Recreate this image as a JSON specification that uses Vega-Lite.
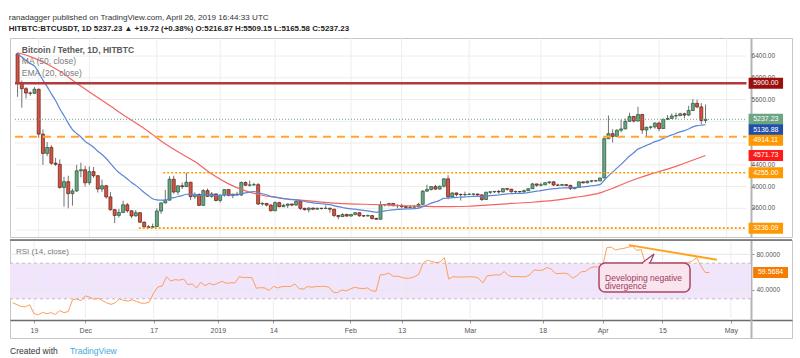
{
  "$schema": "https://vega.github.io/schema/vega-lite/v6.json",
  "background": "white",
  "padding": {"left": 8, "top": 14, "right": 2, "bottom": 0},
  "spacing": 0,
  "config": {
    "view": {"stroke": "#c6c6c6", "strokeWidth": 1},
    "font": "Liberation Sans",
    "text": {"font": "Liberation Sans"}
  },
  "title": {
    "text": "ranadagger published on TradingView.com, April 26, 2019 16:44:33 UTC",
    "subtitle": "HITBTC:BTCUSDT, 1D  5237.23 \u25b2 +19.72 (+0.38%)  O:5216.87  H:5509.15  L:5165.58  C:5237.23",
    "anchor": "start", "frame": "bounds", "font": "Liberation Sans", "fontSize": 8.1, "fontWeight": "normal", "color": "#333",
    "subtitleFont": "Liberation Sans", "subtitleFontSize": 7.9, "subtitleFontWeight": "bold", "subtitleColor": "#222", "subtitlePadding": 3, "offset": 4
  },
  "datasets": {
    "candles": [
      {"d":"2018-11-14","o":6440,"h":6460,"l":5650,"c":5905,"e":6444,"r":25.6},
      {"d":"2018-11-15","o":5905,"h":5950,"l":5450,"c":5800,"e":6383,"r":23.5},
      {"d":"2018-11-16","o":5800,"h":5830,"l":5620,"c":5720,"e":6320,"r":21.4},
      {"d":"2018-11-17","o":5720,"h":5750,"l":5670,"c":5715,"e":6262,"r":21.0},
      {"d":"2018-11-18","o":5715,"h":5830,"l":5700,"c":5790,"e":6217,"r":23.3},
      {"d":"2018-11-19","o":5790,"h":5800,"l":4900,"c":4965,"e":6098,"r":13.3},
      {"d":"2018-11-20","o":4965,"h":5050,"l":4400,"c":4610,"e":5957,"r":12.0},
      {"d":"2018-11-21","o":4610,"h":4820,"l":4560,"c":4720,"e":5839,"r":14.8},
      {"d":"2018-11-22","o":4720,"h":4760,"l":4400,"c":4430,"e":5705,"r":13.3},
      {"d":"2018-11-23","o":4430,"h":4530,"l":4380,"c":4410,"e":5582,"r":14.4},
      {"d":"2018-11-24","o":4410,"h":4500,"l":3960,"c":3985,"e":5430,"r":12.4},
      {"d":"2018-11-25","o":3985,"h":4180,"l":3630,"c":4090,"e":5302,"r":16.7},
      {"d":"2018-11-26","o":4090,"h":4200,"l":3600,"c":3870,"e":5166,"r":14.5},
      {"d":"2018-11-27","o":3870,"h":3960,"l":3650,"c":3920,"e":5047,"r":15.6},
      {"d":"2018-11-28","o":3920,"h":4400,"l":3900,"c":4290,"e":4975,"r":28.9},
      {"d":"2018-11-29","o":4290,"h":4440,"l":4170,"c":4310,"e":4912,"r":30.0},
      {"d":"2018-11-30","o":4310,"h":4380,"l":4000,"c":4070,"e":4832,"r":27.8},
      {"d":"2018-12-01","o":4070,"h":4370,"l":4030,"c":4275,"e":4779,"r":33.3},
      {"d":"2018-12-02","o":4275,"h":4360,"l":4160,"c":4200,"e":4724,"r":31.8},
      {"d":"2018-12-03","o":4200,"h":4210,"l":3890,"c":3955,"e":4651,"r":29.5},
      {"d":"2018-12-04","o":3955,"h":4130,"l":3900,"c":4015,"e":4590,"r":30.7},
      {"d":"2018-12-05","o":4015,"h":4030,"l":3780,"c":3810,"e":4516,"r":28.0},
      {"d":"2018-12-06","o":3810,"h":3900,"l":3560,"c":3575,"e":4426,"r":25.5},
      {"d":"2018-12-07","o":3575,"h":3590,"l":3330,"c":3470,"e":4335,"r":23.7},
      {"d":"2018-12-08","o":3470,"h":3590,"l":3430,"c":3525,"e":4258,"r":25.5},
      {"d":"2018-12-09","o":3525,"h":3740,"l":3510,"c":3665,"e":4202,"r":30.0},
      {"d":"2018-12-10","o":3665,"h":3700,"l":3520,"c":3555,"e":4140,"r":28.1},
      {"d":"2018-12-11","o":3555,"h":3560,"l":3420,"c":3460,"e":4075,"r":27.5},
      {"d":"2018-12-12","o":3460,"h":3570,"l":3450,"c":3520,"e":4022,"r":28.9},
      {"d":"2018-12-13","o":3520,"h":3525,"l":3330,"c":3345,"e":3958,"r":27.0},
      {"d":"2018-12-14","o":3345,"h":3360,"l":3250,"c":3260,"e":3891,"r":25.2},
      {"d":"2018-12-15","o":3260,"h":3290,"l":3236,"c":3250,"e":3830,"r":25.0},
      {"d":"2018-12-16","o":3250,"h":3320,"l":3245,"c":3265,"e":3776,"r":26.3},
      {"d":"2018-12-17","o":3265,"h":3600,"l":3260,"c":3550,"e":3755,"r":36.7},
      {"d":"2018-12-18","o":3550,"h":3705,"l":3500,"c":3700,"e":3750,"r":43.3},
      {"d":"2018-12-19","o":3700,"h":3940,"l":3690,"c":3750,"e":3750,"r":44.4},
      {"d":"2018-12-20","o":3750,"h":4190,"l":3745,"c":4135,"e":3787,"r":54.8},
      {"d":"2018-12-21","o":4135,"h":4200,"l":3870,"c":3900,"e":3797,"r":50.0},
      {"d":"2018-12-22","o":3900,"h":4020,"l":3850,"c":4015,"e":3818,"r":51.5},
      {"d":"2018-12-23","o":4015,"h":4075,"l":3955,"c":4000,"e":3835,"r":51.0},
      {"d":"2018-12-24","o":4000,"h":4255,"l":3995,"c":4080,"e":3859,"r":52.2},
      {"d":"2018-12-25","o":4080,"h":4085,"l":3750,"c":3815,"e":3855,"r":45.9},
      {"d":"2018-12-26","o":3815,"h":3895,"l":3770,"c":3855,"e":3855,"r":46.7},
      {"d":"2018-12-27","o":3855,"h":3875,"l":3645,"c":3655,"e":3836,"r":42.2},
      {"d":"2018-12-28","o":3655,"h":3955,"l":3645,"c":3925,"e":3844,"r":48.5},
      {"d":"2018-12-29","o":3925,"h":3965,"l":3815,"c":3820,"e":3842,"r":44.8},
      {"d":"2018-12-30","o":3820,"h":3900,"l":3795,"c":3865,"e":3844,"r":47.4},
      {"d":"2018-12-31","o":3865,"h":3870,"l":3725,"c":3745,"e":3835,"r":45.6},
      {"d":"2019-01-01","o":3745,"h":3850,"l":3705,"c":3845,"e":3836,"r":47.5},
      {"d":"2019-01-02","o":3845,"h":3950,"l":3815,"c":3945,"e":3846,"r":49.6},
      {"d":"2019-01-03","o":3945,"h":3950,"l":3820,"c":3835,"e":3845,"r":47.4},
      {"d":"2019-01-04","o":3835,"h":3870,"l":3785,"c":3860,"e":3847,"r":48.0},
      {"d":"2019-01-05","o":3860,"h":3905,"l":3840,"c":3845,"e":3846,"r":47.8},
      {"d":"2019-01-06","o":3845,"h":4095,"l":3825,"c":4075,"e":3868,"r":54.8},
      {"d":"2019-01-07","o":4075,"h":4095,"l":4015,"c":4025,"e":3883,"r":54.0},
      {"d":"2019-01-08","o":4025,"h":4110,"l":4000,"c":4030,"e":3897,"r":54.0},
      {"d":"2019-01-09","o":4030,"h":4070,"l":4020,"c":4035,"e":3910,"r":53.7},
      {"d":"2019-01-10","o":4035,"h":4065,"l":3660,"c":3680,"e":3888,"r":41.9},
      {"d":"2019-01-11","o":3680,"h":3715,"l":3650,"c":3690,"e":3869,"r":42.5},
      {"d":"2019-01-12","o":3690,"h":3700,"l":3635,"c":3660,"e":3849,"r":42.2},
      {"d":"2019-01-13","o":3660,"h":3675,"l":3545,"c":3555,"e":3821,"r":39.3},
      {"d":"2019-01-14","o":3555,"h":3730,"l":3555,"c":3705,"e":3810,"r":44.1},
      {"d":"2019-01-15","o":3705,"h":3720,"l":3620,"c":3630,"e":3793,"r":42.2},
      {"d":"2019-01-16","o":3630,"h":3685,"l":3625,"c":3655,"e":3780,"r":43.7},
      {"d":"2019-01-17","o":3655,"h":3685,"l":3605,"c":3680,"e":3770,"r":44.0},
      {"d":"2019-01-18","o":3680,"h":3685,"l":3635,"c":3660,"e":3760,"r":43.8},
      {"d":"2019-01-19","o":3660,"h":3760,"l":3650,"c":3730,"e":3757,"r":46.7},
      {"d":"2019-01-20","o":3730,"h":3745,"l":3570,"c":3600,"e":3742,"r":41.5},
      {"d":"2019-01-21","o":3600,"h":3610,"l":3560,"c":3575,"e":3726,"r":41.0},
      {"d":"2019-01-22","o":3575,"h":3620,"l":3525,"c":3605,"e":3715,"r":43.7},
      {"d":"2019-01-23","o":3605,"h":3615,"l":3565,"c":3585,"e":3702,"r":43.0},
      {"d":"2019-01-24","o":3585,"h":3615,"l":3575,"c":3600,"e":3693,"r":43.8},
      {"d":"2019-01-25","o":3600,"h":3612,"l":3575,"c":3598,"e":3684,"r":43.8},
      {"d":"2019-01-26","o":3598,"h":3655,"l":3595,"c":3602,"e":3676,"r":44.1},
      {"d":"2019-01-27","o":3602,"h":3610,"l":3520,"c":3584,"e":3667,"r":43.0},
      {"d":"2019-01-28","o":3584,"h":3586,"l":3440,"c":3470,"e":3649,"r":37.4},
      {"d":"2019-01-29","o":3470,"h":3478,"l":3400,"c":3448,"e":3630,"r":36.8},
      {"d":"2019-01-30","o":3448,"h":3510,"l":3440,"c":3486,"e":3616,"r":40.0},
      {"d":"2019-01-31","o":3486,"h":3505,"l":3447,"c":3458,"e":3601,"r":38.8},
      {"d":"2019-02-01","o":3458,"h":3490,"l":3450,"c":3488,"e":3590,"r":41.0},
      {"d":"2019-02-02","o":3488,"h":3525,"l":3470,"c":3520,"e":3584,"r":43.0},
      {"d":"2019-02-03","o":3520,"h":3522,"l":3445,"c":3464,"e":3572,"r":41.9},
      {"d":"2019-02-04","o":3464,"h":3476,"l":3440,"c":3459,"e":3561,"r":41.5},
      {"d":"2019-02-05","o":3459,"h":3486,"l":3452,"c":3466,"e":3552,"r":42.2},
      {"d":"2019-02-06","o":3466,"h":3478,"l":3394,"c":3414,"e":3539,"r":39.0},
      {"d":"2019-02-07","o":3414,"h":3428,"l":3392,"c":3399,"e":3526,"r":38.5},
      {"d":"2019-02-08","o":3399,"h":3734,"l":3392,"c":3667,"e":3539,"r":57.0},
      {"d":"2019-02-09","o":3667,"h":3682,"l":3636,"c":3671,"e":3552,"r":57.2},
      {"d":"2019-02-10","o":3671,"h":3695,"l":3634,"c":3690,"e":3565,"r":58.9},
      {"d":"2019-02-11","o":3690,"h":3696,"l":3637,"c":3648,"e":3573,"r":55.2},
      {"d":"2019-02-12","o":3648,"h":3672,"l":3601,"c":3654,"e":3580,"r":55.5},
      {"d":"2019-02-13","o":3654,"h":3683,"l":3600,"c":3632,"e":3585,"r":54.1},
      {"d":"2019-02-14","o":3632,"h":3645,"l":3588,"c":3617,"e":3588,"r":53.0},
      {"d":"2019-02-15","o":3617,"h":3658,"l":3608,"c":3621,"e":3591,"r":53.4},
      {"d":"2019-02-16","o":3621,"h":3665,"l":3615,"c":3630,"e":3595,"r":54.8},
      {"d":"2019-02-17","o":3630,"h":3700,"l":3617,"c":3674,"e":3603,"r":57.5},
      {"d":"2019-02-18","o":3674,"h":3936,"l":3670,"c":3916,"e":3632,"r":70.0},
      {"d":"2019-02-19","o":3916,"h":4033,"l":3905,"c":3947,"e":3662,"r":73.3},
      {"d":"2019-02-20","o":3947,"h":4005,"l":3926,"c":4000,"e":3695,"r":72.0},
      {"d":"2019-02-21","o":4000,"h":4033,"l":3940,"c":3954,"e":3719,"r":70.7},
      {"d":"2019-02-22","o":3954,"h":4020,"l":3950,"c":4006,"e":3747,"r":71.2},
      {"d":"2019-02-23","o":4006,"h":4153,"l":3983,"c":4143,"e":3784,"r":76.3},
      {"d":"2019-02-24","o":4143,"h":4210,"l":3768,"c":3810,"e":3787,"r":52.2},
      {"d":"2019-02-25","o":3810,"h":3892,"l":3800,"c":3883,"e":3796,"r":54.8},
      {"d":"2019-02-26","o":3883,"h":3890,"l":3820,"c":3854,"e":3802,"r":54.4},
      {"d":"2019-02-27","o":3854,"h":3874,"l":3743,"c":3851,"e":3806,"r":54.5},
      {"d":"2019-02-28","o":3851,"h":3906,"l":3823,"c":3855,"e":3811,"r":54.6},
      {"d":"2019-03-01","o":3855,"h":3880,"l":3845,"c":3860,"e":3815,"r":54.8},
      {"d":"2019-03-02","o":3860,"h":3875,"l":3835,"c":3864,"e":3820,"r":54.6},
      {"d":"2019-03-03","o":3864,"h":3868,"l":3822,"c":3847,"e":3823,"r":53.0},
      {"d":"2019-03-04","o":3847,"h":3856,"l":3735,"c":3762,"e":3817,"r":47.8},
      {"d":"2019-03-05","o":3762,"h":3904,"l":3758,"c":3896,"e":3824,"r":55.9},
      {"d":"2019-03-06","o":3896,"h":3910,"l":3863,"c":3904,"e":3832,"r":56.3},
      {"d":"2019-03-07","o":3904,"h":3918,"l":3881,"c":3911,"e":3839,"r":57.0},
      {"d":"2019-03-08","o":3911,"h":3937,"l":3868,"c":3901,"e":3845,"r":56.7},
      {"d":"2019-03-09","o":3901,"h":3969,"l":3895,"c":3963,"e":3856,"r":60.7},
      {"d":"2019-03-10","o":3963,"h":3968,"l":3924,"c":3952,"e":3865,"r":55.9},
      {"d":"2019-03-11","o":3952,"h":3958,"l":3889,"c":3905,"e":3869,"r":54.8},
      {"d":"2019-03-12","o":3905,"h":3926,"l":3873,"c":3909,"e":3873,"r":55.0},
      {"d":"2019-03-13","o":3909,"h":3914,"l":3880,"c":3907,"e":3876,"r":54.8},
      {"d":"2019-03-14","o":3907,"h":3947,"l":3880,"c":3924,"e":3881,"r":54.8},
      {"d":"2019-03-15","o":3924,"h":3968,"l":3920,"c":3961,"e":3888,"r":57.0},
      {"d":"2019-03-16","o":3961,"h":4068,"l":3955,"c":4049,"e":3904,"r":62.6},
      {"d":"2019-03-17","o":4049,"h":4052,"l":3995,"c":4025,"e":3915,"r":61.9},
      {"d":"2019-03-18","o":4025,"h":4071,"l":4005,"c":4033,"e":3926,"r":62.3},
      {"d":"2019-03-19","o":4033,"h":4078,"l":4026,"c":4071,"e":3940,"r":65.2},
      {"d":"2019-03-20","o":4071,"h":4094,"l":4045,"c":4087,"e":3954,"r":63.3},
      {"d":"2019-03-21","o":4087,"h":4099,"l":4009,"c":4029,"e":3961,"r":58.5},
      {"d":"2019-03-22","o":4029,"h":4054,"l":4015,"c":4024,"e":3967,"r":58.4},
      {"d":"2019-03-23","o":4024,"h":4050,"l":4015,"c":4036,"e":3974,"r":58.9},
      {"d":"2019-03-24","o":4036,"h":4040,"l":4006,"c":4022,"e":3978,"r":57.8},
      {"d":"2019-03-25","o":4022,"h":4033,"l":3935,"c":3963,"e":3977,"r":53.0},
      {"d":"2019-03-26","o":3963,"h":3990,"l":3949,"c":3985,"e":3978,"r":56.0},
      {"d":"2019-03-27","o":3985,"h":4090,"l":3980,"c":4087,"e":3988,"r":60.4},
      {"d":"2019-03-28","o":4087,"h":4094,"l":4056,"c":4069,"e":3996,"r":60.7},
      {"d":"2019-03-29","o":4069,"h":4113,"l":4057,"c":4098,"e":4005,"r":64.4},
      {"d":"2019-03-30","o":4098,"h":4114,"l":4076,"c":4107,"e":4015,"r":65.9},
      {"d":"2019-03-31","o":4107,"h":4112,"l":4089,"c":4105,"e":4024,"r":65.8},
      {"d":"2019-04-01","o":4105,"h":4164,"l":4096,"c":4158,"e":4036,"r":66.3},
      {"d":"2019-04-02","o":4158,"h":4905,"l":4155,"c":4880,"e":4117,"r":87.4},
      {"d":"2019-04-03","o":4880,"h":5307,"l":4876,"c":4973,"e":4198,"r":88.1},
      {"d":"2019-04-04","o":4973,"h":5054,"l":4809,"c":4923,"e":4267,"r":84.8},
      {"d":"2019-04-05","o":4923,"h":5053,"l":4915,"c":5037,"e":4340,"r":86.0},
      {"d":"2019-04-06","o":5037,"h":5232,"l":5000,"c":5060,"e":4409,"r":86.7},
      {"d":"2019-04-07","o":5060,"h":5251,"l":5055,"c":5199,"e":4484,"r":88.0},
      {"d":"2019-04-08","o":5199,"h":5357,"l":5190,"c":5290,"e":4561,"r":88.9},
      {"d":"2019-04-09","o":5290,"h":5295,"l":5178,"c":5205,"e":4622,"r":84.3},
      {"d":"2019-04-10","o":5205,"h":5467,"l":5200,"c":5325,"e":4689,"r":85.5},
      {"d":"2019-04-11","o":5325,"h":5335,"l":4970,"c":5040,"e":4723,"r":69.7},
      {"d":"2019-04-12","o":5040,"h":5103,"l":4912,"c":5090,"e":4758,"r":69.0},
      {"d":"2019-04-13","o":5090,"h":5118,"l":5052,"c":5097,"e":4790,"r":69.2},
      {"d":"2019-04-14","o":5097,"h":5180,"l":5064,"c":5168,"e":4826,"r":69.7},
      {"d":"2019-04-15","o":5168,"h":5197,"l":5019,"c":5067,"e":4849,"r":65.2},
      {"d":"2019-04-16","o":5067,"h":5250,"l":5060,"c":5236,"e":4886,"r":69.7},
      {"d":"2019-04-17","o":5236,"h":5312,"l":5223,"c":5252,"e":4918,"r":69.8},
      {"d":"2019-04-18","o":5252,"h":5345,"l":5245,"c":5298,"e":4950,"r":70.0},
      {"d":"2019-04-19","o":5298,"h":5360,"l":5237,"c":5304,"e":4978,"r":70.2},
      {"d":"2019-04-20","o":5304,"h":5358,"l":5297,"c":5338,"e":5005,"r":70.5},
      {"d":"2019-04-21","o":5338,"h":5359,"l":5257,"c":5315,"e":5030,"r":70.7},
      {"d":"2019-04-22","o":5315,"h":5485,"l":5299,"c":5399,"e":5060,"r":72.5},
      {"d":"2019-04-23","o":5399,"h":5610,"l":5389,"c":5530,"e":5098,"r":76.3},
      {"d":"2019-04-24","o":5530,"h":5600,"l":5440,"c":5465,"e":5122,"r":67.0},
      {"d":"2019-04-25","o":5465,"h":5536,"l":5150,"c":5217,"e":5130,"r":59.6},
      {"d":"2019-04-26","o":5216.87,"h":5509.15,"l":5165.58,"c":5237.23,"e":5137,"r":59.57}
    ],
    "ma": [
      {"d":"2018-11-14","m":6460},{"d":"2018-11-17","m":6390},{"d":"2018-11-20","m":6290},{"d":"2018-11-24","m":6120},
      {"d":"2018-11-28","m":5900},{"d":"2018-12-02","m":5690},{"d":"2018-12-06","m":5480},{"d":"2018-12-10","m":5270},
      {"d":"2018-12-14","m":5070},{"d":"2018-12-18","m":4840},{"d":"2018-12-22","m":4640},{"d":"2018-12-26","m":4460},
      {"d":"2018-12-30","m":4230},{"d":"2019-01-03","m":4050},{"d":"2019-01-07","m":3920},{"d":"2019-01-11","m":3840},
      {"d":"2019-01-15","m":3790},{"d":"2019-01-20","m":3750},{"d":"2019-01-25","m":3715},{"d":"2019-01-30","m":3688},
      {"d":"2019-02-04","m":3675},{"d":"2019-02-09","m":3662},{"d":"2019-02-14","m":3648},{"d":"2019-02-19","m":3636},
      {"d":"2019-02-24","m":3630},{"d":"2019-03-01","m":3638},{"d":"2019-03-06","m":3665},{"d":"2019-03-11","m":3690},
      {"d":"2019-03-16","m":3712},{"d":"2019-03-21","m":3745},{"d":"2019-03-26","m":3800},{"d":"2019-04-01","m":3885},
      {"d":"2019-04-05","m":4000},{"d":"2019-04-09","m":4125},{"d":"2019-04-13","m":4230},{"d":"2019-04-17","m":4320},
      {"d":"2019-04-21","m":4430},{"d":"2019-04-26","m":4572}
    ],
    "ticks": [
      {"t":"2018-11-19"},{"t":"2018-12-01"},{"t":"2018-12-17"},{"t":"2019-01-01"},{"t":"2019-01-14"},{"t":"2019-02-01"},
      {"t":"2019-02-13"},{"t":"2019-03-01"},{"t":"2019-03-18"},{"t":"2019-04-01"},{"t":"2019-04-15"},{"t":"2019-05-01"}
    ],
    "levels": [
      {"lv":5900,"from":"2018-11-13T09:16:00Z","to":"2019-05-05T17:00:00Z","s":"resist"},
      {"lv":5237.23,"from":"2018-11-13T09:16:00Z","to":"2019-05-05T17:00:00Z","s":"last"},
      {"lv":4914.11,"from":"2018-11-13T09:16:00Z","to":"2019-05-05T17:00:00Z","s":"dash"},
      {"lv":4255,"from":"2018-12-18T12:00:00Z","to":"2019-05-05T17:00:00Z","s":"dot"},
      {"lv":3236.09,"from":"2018-12-12T17:00:00Z","to":"2019-05-05T17:00:00Z","s":"dot"}
    ],
    "tags": [
      {"v":5900},{"v":5237.23},{"v":5136.88},{"v":4914.11},{"v":4571.73},{"v":4255},{"v":3236.09}
    ],
    "trend": [
      {"d":"2019-04-07T04:00:00Z","r":90.3},{"d":"2019-04-27T18:00:00Z","r":73.9}
    ],
    "pointer": [
      {"i":1,"d":"2019-04-10T05:00:00Z","r":70.2},{"i":2,"d":"2019-04-13T01:00:00Z","r":80.3},{"i":3,"d":"2019-04-12T02:00:00Z","r":70.2}
    ]
  },
  "vconcat": [
    {
      "width": 782,
      "height": 199,
      "layer": [
        {
          "data": {"values": [{"g":3200},{"g":3600},{"g":4000},{"g":4400},{"g":4800},{"g":5200},{"g":5600},{"g":6000},{"g":6400}]},
          "mark": {"type": "rule", "color": "#ededed", "strokeWidth": 1},
          "encoding": {
            "x": {"datum": {"year":2018,"month":11,"date":13,"hours":9,"minutes":16,"utc":true}, "type": "temporal", "axis": null,
                  "scale": {"type": "utc", "domain": [{"year":2018,"month":11,"date":13,"hours":9,"minutes":16,"utc":true},{"year":2019,"month":5,"date":15,"hours":7,"minutes":24,"utc":true}]}},
            "x2": {"datum": {"year":2019,"month":5,"date":5,"hours":17,"utc":true}},
            "y": {"field": "g", "type": "quantitative",
                  "scale": {"domain": [3073, 6732], "nice": false, "zero": false},
                  "axis": {"orient": "right", "offset": -41, "title": null, "grid": false, "labels": false,
                           "values": [3600,4000,4400,5600,6000,6400],
                           "domainColor": "#b4b4b4", "domainWidth": 2, "tickColor": "#999", "tickSize": 3}}
          }
        },
        {
          "data": {"name": "ticks"},
          "mark": {"type": "rule", "color": "#ededed", "strokeWidth": 1},
          "encoding": {"x": {"field": "t", "type": "temporal", "axis": null}}
        },
        {
          "data": {"name": "candles"},
          "mark": {"type": "rule", "color": "#737375", "strokeWidth": 1},
          "encoding": {
            "x": {"field": "d", "type": "temporal", "axis": null},
            "y": {"field": "l", "type": "quantitative"},
            "y2": {"field": "h"}
          }
        },
        {
          "data": {"name": "candles"},
          "mark": {"type": "bar", "size": 3, "strokeWidth": 0.7},
          "encoding": {
            "x": {"field": "d", "type": "temporal", "axis": null},
            "y": {"field": "o", "type": "quantitative"},
            "y2": {"field": "c"},
            "fill": {"condition": {"test": "datum.c >= datum.o", "value": "#6ba583"}, "value": "#d75442"},
            "stroke": {"condition": {"test": "datum.c >= datum.o", "value": "#225437"}, "value": "#5b1a13"}
          }
        },
        {
          "data": {"name": "ma"},
          "mark": {"type": "line", "color": "#f26464", "strokeWidth": 1.2, "interpolate": "monotone"},
          "encoding": {
            "x": {"field": "d", "type": "temporal", "axis": null},
            "y": {"field": "m", "type": "quantitative"}
          }
        },
        {
          "data": {"name": "candles"},
          "mark": {"type": "line", "color": "#5a86d6", "strokeWidth": 1.2, "interpolate": "monotone"},
          "encoding": {
            "x": {"field": "d", "type": "temporal", "axis": null},
            "y": {"field": "e", "type": "quantitative"}
          }
        },
        {
          "data": {"name": "levels"},
          "transform": [{"filter": "datum.s == 'resist'"}],
          "mark": {"type": "rule", "color": "#b23a3a", "strokeWidth": 2.6},
          "encoding": {
            "x": {"field": "from", "type": "temporal", "axis": null},
            "x2": {"field": "to"},
            "y": {"field": "lv", "type": "quantitative"}
          }
        },
        {
          "data": {"name": "levels"},
          "transform": [{"filter": "datum.s == 'last'"}],
          "mark": {"type": "rule", "color": "#6ba583", "strokeWidth": 1, "strokeDash": [1, 2]},
          "encoding": {
            "x": {"field": "from", "type": "temporal", "axis": null},
            "x2": {"field": "to"},
            "y": {"field": "lv", "type": "quantitative"}
          }
        },
        {
          "data": {"name": "levels"},
          "transform": [{"filter": "datum.s == 'dash'"}],
          "mark": {"type": "rule", "color": "#ffa733", "strokeWidth": 2, "strokeDash": [8, 6]},
          "encoding": {
            "x": {"field": "from", "type": "temporal", "axis": null},
            "x2": {"field": "to"},
            "y": {"field": "lv", "type": "quantitative"}
          }
        },
        {
          "data": {"name": "levels"},
          "transform": [{"filter": "datum.s == 'dot'"}],
          "mark": {"type": "rule", "color": "#ff9800", "strokeWidth": 1.6, "strokeDash": [2, 2]},
          "encoding": {
            "x": {"field": "from", "type": "temporal", "axis": null},
            "x2": {"field": "to"},
            "y": {"field": "lv", "type": "quantitative"}
          }
        },
        {
          "data": {"values": [{}]},
          "mark": {"type": "text", "align": "left", "baseline": "middle", "fontSize": 8.5, "fontWeight": "bold", "color": "#5a5a5a"},
          "encoding": {
            "x": {"datum": {"year":2018,"month":11,"date":15,"utc":true}, "type": "temporal", "axis": null},
            "y": {"datum": 6506, "type": "quantitative"},
            "text": {"value": "Bitcoin / Tether, 1D, HITBTC"}
          }
        },
        {
          "data": {"values": [{}]},
          "mark": {"type": "text", "align": "left", "baseline": "middle", "fontSize": 8.5, "color": "#7a7a7a"},
          "encoding": {
            "x": {"datum": {"year":2018,"month":11,"date":15,"utc":true}, "type": "temporal", "axis": null},
            "y": {"datum": 6309, "type": "quantitative"},
            "text": {"value": "MA (50, close)"}
          }
        },
        {
          "data": {"values": [{}]},
          "mark": {"type": "text", "align": "left", "baseline": "middle", "fontSize": 8.5, "color": "#7a7a7a"},
          "encoding": {
            "x": {"datum": {"year":2018,"month":11,"date":15,"utc":true}, "type": "temporal", "axis": null},
            "y": {"datum": 6094, "type": "quantitative"},
            "text": {"value": "EMA (20, close)"}
          }
        },
        {
          "data": {"values": [{"p":3600},{"p":4000},{"p":4400},{"p":5600},{"p":6000},{"p":6400}]},
          "mark": {"type": "text", "align": "left", "baseline": "middle", "fontSize": 6.5, "color": "#555"},
          "encoding": {
            "x": {"datum": {"year":2019,"month":5,"date":6,"hours":22,"utc":true}, "type": "temporal", "axis": null},
            "y": {"field": "p", "type": "quantitative"},
            "text": {"field": "p", "type": "quantitative", "format": ".2f"}
          }
        },
        {
          "data": {"name": "tags"},
          "transform": [{"filter": "datum.v != 5136.88 && datum.v != 4914.11"}],
          "mark": {"type": "rule", "strokeWidth": 11},
          "encoding": {
            "x": {"datum": {"year":2019,"month":5,"date":6,"hours":5,"utc":true}, "type": "temporal", "axis": null},
            "x2": {"datum": {"year":2019,"month":5,"date":14,"hours":9,"utc":true}},
            "y": {"field": "v", "type": "quantitative"},
            "color": {"field": "v", "type": "nominal", "legend": null,
                      "scale": {"domain": [5900, 5237.23, 5136.88, 4914.11, 4571.73, 4255, 3236.09],
                                "range": ["#9c0f0f", "#6ba583", "#1f4fa6", "#ff9800", "#ff1a1a", "#ff9800", "#ff9800"]}}
          }
        },
        {
          "data": {"name": "tags"},
          "transform": [{"filter": "datum.v == 5136.88"}],
          "mark": {"type": "rule", "strokeWidth": 11, "yOffset": 5, "color": "#1f4fa6"},
          "encoding": {
            "x": {"datum": {"year":2019,"month":5,"date":6,"hours":5,"utc":true}, "type": "temporal", "axis": null},
            "x2": {"datum": {"year":2019,"month":5,"date":14,"hours":9,"utc":true}},
            "y": {"field": "v", "type": "quantitative"}
          }
        },
        {
          "data": {"name": "tags"},
          "transform": [{"filter": "datum.v == 4914.11"}],
          "mark": {"type": "rule", "strokeWidth": 11, "yOffset": 3.5, "color": "#ff9800"},
          "encoding": {
            "x": {"datum": {"year":2019,"month":5,"date":6,"hours":5,"utc":true}, "type": "temporal", "axis": null},
            "x2": {"datum": {"year":2019,"month":5,"date":14,"hours":9,"utc":true}},
            "y": {"field": "v", "type": "quantitative"}
          }
        },
        {
          "data": {"name": "tags"},
          "transform": [{"filter": "datum.v != 5136.88 && datum.v != 4914.11"}],
          "mark": {"type": "text", "align": "center", "baseline": "middle", "fontSize": 7, "color": "white"},
          "encoding": {
            "x": {"datum": {"year":2019,"month":5,"date":10,"hours":7,"utc":true}, "type": "temporal", "axis": null},
            "y": {"field": "v", "type": "quantitative"},
            "text": {"field": "v", "type": "quantitative", "format": ".2f"}
          }
        },
        {
          "data": {"name": "tags"},
          "transform": [{"filter": "datum.v == 5136.88"}],
          "mark": {"type": "text", "align": "center", "baseline": "middle", "fontSize": 7, "color": "white", "yOffset": 5},
          "encoding": {
            "x": {"datum": {"year":2019,"month":5,"date":10,"hours":7,"utc":true}, "type": "temporal", "axis": null},
            "y": {"field": "v", "type": "quantitative"},
            "text": {"field": "v", "type": "quantitative", "format": ".2f"}
          }
        },
        {
          "data": {"name": "tags"},
          "transform": [{"filter": "datum.v == 4914.11"}],
          "mark": {"type": "text", "align": "center", "baseline": "middle", "fontSize": 7, "color": "white", "yOffset": 3.5},
          "encoding": {
            "x": {"datum": {"year":2019,"month":5,"date":10,"hours":7,"utc":true}, "type": "temporal", "axis": null},
            "y": {"field": "v", "type": "quantitative"},
            "text": {"field": "v", "type": "quantitative", "format": ".2f"}
          }
        }
      ]
    },
    {
      "width": 782,
      "height": 98,
      "layer": [
        {
          "data": {"values": [{}]},
          "mark": {"type": "rect", "color": "#f1e5fc"},
          "encoding": {
            "x": {"datum": {"year":2018,"month":11,"date":13,"hours":9,"minutes":16,"utc":true}, "type": "temporal",
                  "scale": {"type": "utc", "domain": [{"year":2018,"month":11,"date":13,"hours":9,"minutes":16,"utc":true},{"year":2019,"month":5,"date":15,"hours":7,"minutes":24,"utc":true}]},
                  "axis": {"orient": "bottom", "offset": -18, "title": null, "grid": false, "labelFlush": false, "labelOverlap": false,
                           "values": [
                             {"year":2018,"month":11,"date":19,"utc":true},{"year":2018,"month":12,"date":1,"utc":true},
                             {"year":2018,"month":12,"date":17,"utc":true},{"year":2019,"month":1,"date":1,"utc":true},
                             {"year":2019,"month":1,"date":14,"utc":true},{"year":2019,"month":2,"date":1,"utc":true},
                             {"year":2019,"month":2,"date":13,"utc":true},{"year":2019,"month":3,"date":1,"utc":true},
                             {"year":2019,"month":3,"date":18,"utc":true},{"year":2019,"month":4,"date":1,"utc":true},
                             {"year":2019,"month":4,"date":15,"utc":true},{"year":2019,"month":5,"date":1,"utc":true}],
                           "labelExpr": "utcmonth(datum.value) == 0 && utcdate(datum.value) == 1 ? '2019' : (utcdate(datum.value) == 1 ? utcFormat(datum.value, '%b') : utcFormat(datum.value, '%d'))",
                           "domainColor": "#6b6b6b", "domainWidth": 1.5, "tickColor": "#999", "tickSize": 3,
                           "labelFontSize": 7, "labelColor": "#555", "labelPadding": 3}},
            "x2": {"datum": {"year":2019,"month":5,"date":5,"hours":17,"utc":true}},
            "y": {"datum": 70, "type": "quantitative",
                  "scale": {"domain": [-14.04, 96.07], "nice": false, "zero": false},
                  "axis": {"orient": "right", "offset": -41, "title": null, "grid": false, "labelOverlap": false,
                           "values": [40, 80], "format": ".4f",
                           "domainColor": "#b4b4b4", "domainWidth": 2, "tickColor": "#999", "tickSize": 3,
                           "labelFontSize": 6.5, "labelColor": "#555", "labelPadding": 2}},
            "y2": {"datum": 30}
          }
        },
        {
          "data": {"values": [{"g":80},{"g":40}]},
          "mark": {"type": "rule", "color": "#e6e6e6", "strokeWidth": 1},
          "encoding": {
            "x": {"datum": {"year":2018,"month":11,"date":13,"hours":9,"minutes":16,"utc":true}, "type": "temporal"},
            "x2": {"datum": {"year":2019,"month":5,"date":5,"hours":17,"utc":true}},
            "y": {"field": "g", "type": "quantitative"}
          }
        },
        {
          "data": {"name": "ticks"},
          "mark": {"type": "rule", "color": "#ededed", "strokeWidth": 1},
          "encoding": {
            "x": {"field": "t", "type": "temporal"},
            "y": {"datum": 96.07, "type": "quantitative"},
            "y2": {"datum": 6.18}
          }
        },
        {
          "data": {"values": [{"g":70},{"g":30}]},
          "mark": {"type": "rule", "color": "#bdbdbd", "strokeWidth": 1, "strokeDash": [3, 3]},
          "encoding": {
            "x": {"datum": {"year":2018,"month":11,"date":13,"hours":9,"minutes":16,"utc":true}, "type": "temporal"},
            "x2": {"datum": {"year":2019,"month":5,"date":5,"hours":17,"utc":true}},
            "y": {"field": "g", "type": "quantitative"}
          }
        },
        {
          "data": {"name": "candles"},
          "mark": {"type": "line", "color": "#ff9d5c", "strokeWidth": 1},
          "encoding": {
            "x": {"field": "d", "type": "temporal"},
            "y": {"field": "r", "type": "quantitative"}
          }
        },
        {
          "data": {"name": "trend"},
          "mark": {"type": "line", "color": "#ffa21f", "strokeWidth": 2},
          "encoding": {
            "x": {"field": "d", "type": "temporal"},
            "y": {"field": "r", "type": "quantitative"}
          }
        },
        {
          "data": {"values": [{}]},
          "mark": {"type": "rect", "fill": "#fbe4ec", "fillOpacity": 0.92, "stroke": "#a8476a", "strokeWidth": 1.5, "cornerRadius": 6},
          "encoding": {
            "x": {"datum": {"year":2019,"month":3,"date":31,"hours":4,"utc":true}, "type": "temporal"},
            "x2": {"datum": {"year":2019,"month":4,"date":21,"hours":11,"utc":true}},
            "y": {"datum": 70.2, "type": "quantitative"},
            "y2": {"datum": 37.6}
          }
        },
        {
          "data": {"values": [{}]},
          "mark": {"type": "rule", "color": "#fbe4ec", "strokeWidth": 2.5},
          "encoding": {
            "x": {"datum": {"year":2019,"month":4,"date":10,"hours":12,"utc":true}, "type": "temporal"},
            "x2": {"datum": {"year":2019,"month":4,"date":11,"hours":19,"utc":true}},
            "y": {"datum": 70.2, "type": "quantitative"}
          }
        },
        {
          "data": {"name": "pointer"},
          "mark": {"type": "line", "color": "#a8476a", "strokeWidth": 1.3},
          "encoding": {
            "x": {"field": "d", "type": "temporal"},
            "y": {"field": "r", "type": "quantitative"},
            "order": {"field": "i"}
          }
        },
        {
          "data": {"values": [{}]},
          "mark": {"type": "text", "align": "left", "baseline": "middle", "fontSize": 8.5, "lineHeight": 8.5, "color": "#9c3a5f"},
          "encoding": {
            "x": {"datum": {"year":2019,"month":4,"date":1,"hours":14,"utc":true}, "type": "temporal"},
            "y": {"datum": 53.5, "type": "quantitative"},
            "text": {"value": ["Developing negative", "divergence"]}
          }
        },
        {
          "data": {"values": [{}]},
          "mark": {"type": "rule", "color": "#666666", "strokeWidth": 1.5},
          "encoding": {
            "x": {"datum": {"year":2018,"month":11,"date":13,"hours":9,"minutes":16,"utc":true}, "type": "temporal"},
            "x2": {"datum": {"year":2019,"month":5,"date":15,"hours":7,"minutes":24,"utc":true}},
            "y": {"datum": 96.07, "type": "quantitative"}
          }
        },
        {
          "data": {"values": [{"v":59.5684}]},
          "mark": {"type": "rule", "strokeWidth": 11, "color": "#f57c00"},
          "encoding": {
            "x": {"datum": {"year":2019,"month":5,"date":6,"hours":5,"utc":true}, "type": "temporal"},
            "x2": {"datum": {"year":2019,"month":5,"date":14,"hours":9,"utc":true}},
            "y": {"field": "v", "type": "quantitative"}
          }
        },
        {
          "data": {"values": [{"v":59.5684}]},
          "mark": {"type": "text", "align": "center", "baseline": "middle", "fontSize": 7, "color": "white"},
          "encoding": {
            "x": {"datum": {"year":2019,"month":5,"date":10,"hours":7,"utc":true}, "type": "temporal"},
            "y": {"field": "v", "type": "quantitative"},
            "text": {"field": "v", "type": "quantitative", "format": ".4f"}
          }
        },
        {
          "data": {"values": [{}]},
          "mark": {"type": "text", "align": "left", "baseline": "middle", "fontSize": 8, "color": "#7a7a7a"},
          "encoding": {
            "x": {"datum": {"year":2018,"month":11,"date":14,"hours":19,"utc":true}, "type": "temporal"},
            "y": {"datum": 82.2, "type": "quantitative"},
            "text": {"value": "RSI (14, close)"}
          }
        },
        {
          "data": {"values": [{}]},
          "mark": {"type": "text", "align": "left", "baseline": "middle", "fontSize": 8.5, "color": "#333"},
          "encoding": {
            "x": {"datum": {"year":2018,"month":11,"date":13,"hours":9,"minutes":16,"utc":true}, "type": "temporal"},
            "y": {"datum": -28.65, "type": "quantitative"},
            "text": {"value": "Created with"}
          }
        },
        {
          "data": {"values": [{}]},
          "mark": {"type": "text", "align": "left", "baseline": "middle", "fontSize": 8.5, "color": "#45a8e0"},
          "encoding": {
            "x": {"datum": {"year":2018,"month":11,"date":27,"hours":10,"utc":true}, "type": "temporal"},
            "y": {"datum": -28.65, "type": "quantitative"},
            "text": {"value": "TradingView"}
          }
        }
      ]
    }
  ]
}
